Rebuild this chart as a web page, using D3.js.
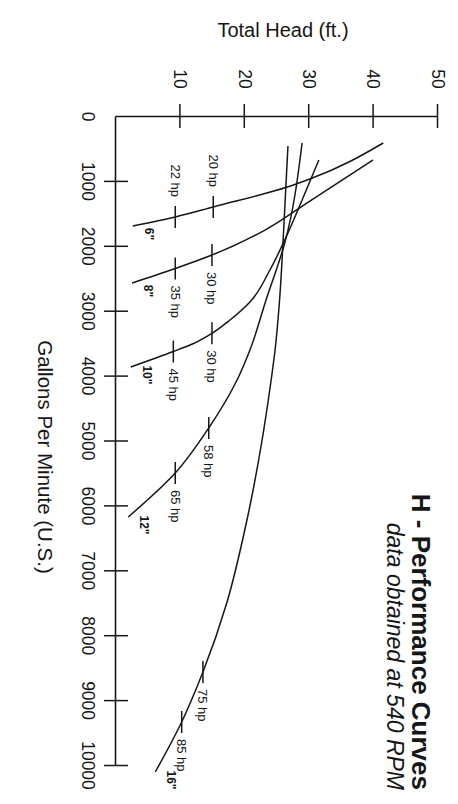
<!DOCTYPE html>
<html>
<head>
<meta charset="utf-8">
<script src="https://cdn.jsdelivr.net/npm/d3@7/dist/d3.min.js"></script>
<style>
  html, body { margin: 0; padding: 0; background: #ffffff; }
  svg { display: block; font-family: "Liberation Sans", Arial, Helvetica, sans-serif; }
</style>
</head>
<body>
<svg id="chart" width="458" height="804"></svg>
<script>
// ---------- data (GPM, Total Head ft) ----------
const gpmTicks  = [0, 1000, 2000, 3000, 4000, 5000, 6000, 7000, 8000, 9000, 10000];
const headTicks = [10, 20, 30, 40, 50];

const curve6  = [[416, 41.5], [971, 30.1], [1094, 26.6], [1402, 15.1], [1556, 9.2], [1695, 2.6]];
const curve8  = [[678, 39.9], [1310, 30.1], [1765, 23.0], [2142, 14.9], [2350, 9.2], [2573, 2.5]];
const curve10 = [[678, 31.5], [1294, 28.9], [1911, 26.2], [2373, 23.9], [2866, 20.8], [3143, 17.7], [3348, 14.9], [3529, 11.5], [3629, 8.9], [3867, 2.3]];
const curve12 = [[416, 28.9], [1957, 26.2], [2835, 23.3], [3606, 20.8], [4068, 18.8], [4807, 14.4], [5501, 9.2], [6179, 1.9]];
const curve16 = [[462, 26.7], [2018, 25.9], [2835, 25.4], [3606, 24.7], [3991, 24.2], [6287, 20.2], [7504, 17.2], [8567, 13.5], [9337, 10.2], [10108, 6.1]];

const curveNames = ['6"', '8"', '10"', '12"', '16"'];
const curveData  = [curve6, curve8, curve10, curve12, curve16];

const hpGpm    = [1402, 1556, 2142, 2350, 3348, 3629, 4807, 5501, 8567, 9337];
const hpHead   = [15.1, 9.2, 14.9, 9.2, 14.9, 8.9, 14.4, 9.2, 13.5, 10.2];
const hpLabels = ['20 hp', '22 hp', '30 hp', '35 hp', '30 hp', '45 hp', '58 hp', '65 hp', '75 hp', '85 hp'];
const hpCurve  = ['6"', '6"', '8"', '8"', '10"', '10"', '12"', '12"', '16"', '16"'];

const titleText    = 'H - Performance Curves';
const subtitleText = 'data obtained at 540 RPM';
const xTitle = 'Gallons Per Minute (U.S.)';
const yTitle = 'Total Head (ft.)';

// ---------- layout: chart drawn in its own frame, then turned 90° clockwise ----------
const svg = d3.select('#chart');
const g = svg.append('g').attr('transform', 'translate(458,0) rotate(90)');

const x = d3.scaleLinear().domain([0, 10000]).range([116, 765]);
const y = d3.scaleLinear().domain([0, 50]).range([342, 20]);

const ink = '#161616';

// GPM axis
const xAxis = g.append('g').attr('transform', `translate(0,${y(0)})`)
  .call(d3.axisBottom(x).tickValues(gpmTicks).tickSizeInner(12).tickSizeOuter(0).tickFormat(d3.format('d')));
xAxis.select('.domain').attr('stroke', ink).attr('stroke-width', 1.6);
xAxis.selectAll('.tick line').attr('y1', -12).attr('y2', 12).attr('stroke', ink).attr('stroke-width', 1.5)
  .filter(d => d === 0).remove();
xAxis.selectAll('.tick text').attr('y', 22).attr('fill', ink).style('font-size', '17.5px')
  .style('font-family', '"Liberation Sans", Arial, sans-serif');

// Head axis
const yAxis = g.append('g').attr('transform', `translate(${x(0)},0)`)
  .call(d3.axisLeft(y).tickValues(headTicks).tickSizeInner(12).tickSizeOuter(0));
yAxis.select('.domain').attr('stroke', ink).attr('stroke-width', 1.6);
yAxis.selectAll('.tick line').attr('x1', 12).attr('x2', -12).attr('stroke', ink).attr('stroke-width', 1.5);
yAxis.selectAll('.tick text').attr('x', -37).attr('text-anchor', 'middle').attr('fill', ink)
  .style('font-size', '17.5px').style('font-family', '"Liberation Sans", Arial, sans-serif');

// axis titles
g.append('text').attr('transform', 'translate(37,175) rotate(-90)')
  .attr('text-anchor', 'middle').attr('fill', ink).style('font-size', '20px').text(yTitle);
g.append('text').attr('x', 457).attr('y', 420)
  .attr('text-anchor', 'middle').attr('fill', ink).style('font-size', '20.5px').text(xTitle);

// chart title
g.append('text').attr('x', 790).attr('y', 46).attr('text-anchor', 'end').attr('fill', ink)
  .style('font-size', '26px').style('font-weight', 'bold').text(titleText);
g.append('text').attr('x', 790).attr('y', 71).attr('text-anchor', 'end').attr('fill', ink)
  .style('font-size', '23px').style('font-style', 'italic').text(subtitleText);

// curves
const line = d3.line().x(d => x(d[0])).y(d => y(d[1])).curve(d3.curveMonotoneX);
g.selectAll('path.curve').data(curveData).join('path')
  .attr('class', 'curve').attr('d', line)
  .attr('fill', 'none').attr('stroke', ink).attr('stroke-width', 1.5);

// curve size labels near the curve ends
g.selectAll('text.size').data(curveData).join('text')
  .attr('class', 'size')
  .attr('x', d => x(d[d.length - 1][0]) + 8)
  .attr('y', d => y(d[d.length - 1][1]) - 12)
  .attr('text-anchor', 'middle').attr('fill', ink)
  .style('font-size', '12px').style('font-weight', 'bold')
  .text((d, i) => curveNames[i]);

// horsepower markers
const hp = hpGpm.map((gp, i) => ({ gpm: gp, head: hpHead[i], label: hpLabels[i], curve: hpCurve[i] }));
g.selectAll('line.hp').data(hp).join('line').attr('class', 'hp')
  .attr('x1', d => x(d.gpm) - 11).attr('x2', d => x(d.gpm) + 11)
  .attr('y1', d => y(d.head)).attr('y2', d => y(d.head))
  .attr('stroke', ink).attr('stroke-width', 1.5);
g.selectAll('text.hp').data(hp).join('text').attr('class', 'hp')
  .attr('x', d => d.curve === '6"' ? x(d.gpm) - 20 : x(d.gpm) + 17)
  .attr('y', d => y(d.head) + 4.5)
  .attr('text-anchor', d => d.curve === '6"' ? 'end' : 'start')
  .attr('fill', ink).style('font-size', '13px')
  .text(d => d.label);
</script>
</body>
</html>
